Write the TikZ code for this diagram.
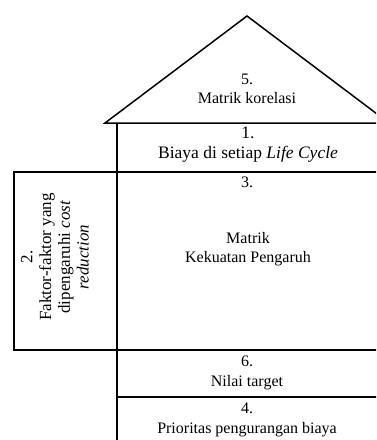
\documentclass[tikz,border=0pt]{standalone}
\usepackage{fontspec}
\setmainfont{Liberation Serif}
\begin{document}
\begin{tikzpicture}[x=1pt,y=-1pt, line width=1.5pt,
  lbl/.style={align=center, font=\fontsize{16}{19.5}\selectfont, inner sep=0pt}]
\useasboundingbox (0,0) rectangle (376,440);
\clip (0,0) rectangle (376,440);
% roof
\coordinate (apex) at (247,16);
\coordinate (eaveL) at (105,123);
\coordinate (eaveR) at (389,123);
\draw[line join=miter] (eaveL) -- (apex) -- (eaveR) -- cycle;
% main column and rows
\coordinate (colTop) at (117,123);
\coordinate (colBot) at (117,441);
\draw (colTop) -- (colBot);
\draw (117,172) -- (380,172);
\draw (117,350) -- (380,350);
\draw (117,397) -- (380,397);
% left wing
\draw (14,172) rectangle (117,350);
% labels
\node[lbl] (roof) at (247,89) {5.\\Matrik korelasi};
\node[lbl, font=\fontsize{17.5}{20}\selectfont] (cost) at (248,145) {1.\\Biaya di setiap \textit{Life Cycle}};
\node[lbl] (num3) at (247,182) {3.};
\node[lbl] (matrix) at (248,249) {Matrik\\Kekuatan Pengaruh};
\node[lbl] (target) at (247,373) {6.\\Nilai target};
\node[lbl] (prio) at (247,420) {4.\\Prioritas pengurangan biaya};
\node[lbl, rotate=90, font=\fontsize{17}{18.7}\selectfont] (factor) at (55,257)
  {2.\\Faktor-faktor yang\\dipengaruhi \textit{cost}\\\textit{reduction}};
\end{tikzpicture}
\end{document}
